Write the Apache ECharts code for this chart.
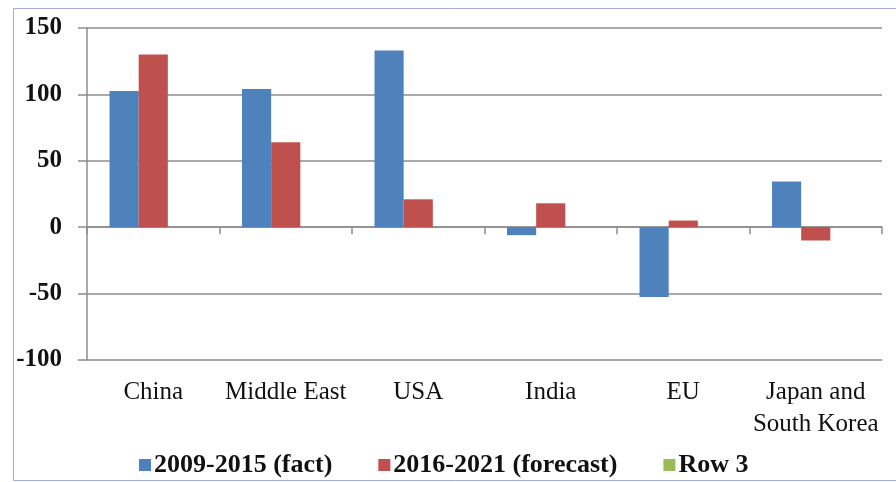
<!DOCTYPE html>
<html>
<head>
<meta charset="utf-8">
<script src="https://cdn.jsdelivr.net/npm/echarts@6/dist/echarts.min.js"></script>
<style>
html, body {margin: 0; padding: 0; background: #fff;}
#figure0 {width: 896px; height: 482px;}
</style>
</head>
<body>
<div id="figure0"></div>
<script>
var regions = ['China', 'Middle East', 'USA', 'India', 'EU', 'Japan and\nSouth Korea'];
var fact = [102.5, 104, 133, -6, -52.5, 34.5];
var forecast = [130, 64, 21, 18, 5, -10];
var row3 = [null, null, null, null, null, null];
var yTicks = {min: -100, max: 150, interval: 50};

var figure0 = echarts.init(document.getElementById('figure0'));
var serif = '"Liberation Serif", "Times New Roman", serif';
var gridColor = '#8c8c8c';
var option = {
    animation: false,
    graphic: [{
        type: 'rect',
        shape: {x: 13.5, y: 8.5, width: 900, height: 472},
        style: {fill: 'none', stroke: '#a3aed6', lineWidth: 1}
    }],
    grid: {left: 87, right: 14, top: 28, bottom: 122},
    legend: {
        left: 134,
        top: 447,
        icon: 'rect',
        itemWidth: 12,
        itemHeight: 12,
        itemGap: 46,
        textStyle: {fontFamily: serif, fontWeight: 'bold', fontSize: 26, color: '#111', padding: [0, 0, 0, -2]},
        data: ['2009-2015 (fact)', '2016-2021 (forecast)', 'Row 3']
    },
    xAxis: [{
        type: 'category',
        data: regions,
        axisLine: {onZero: true, lineStyle: {color: gridColor, width: 1.5}},
        axisTick: {show: true, inside: false, length: 7, lineStyle: {color: gridColor, width: 1.5}},
        axisLabel: {show: false},
        splitLine: {show: false}
    }, {
        type: 'category',
        data: regions,
        position: 'bottom',
        axisLine: {show: false},
        axisTick: {show: false},
        axisLabel: {
            fontFamily: serif, fontSize: 25, color: '#111', margin: 16, lineHeight: 32,
            interval: 0
        }
    }],
    yAxis: {
        type: 'value',
        min: yTicks.min,
        max: yTicks.max,
        interval: yTicks.interval,
        axisLine: {show: true, lineStyle: {color: gridColor, width: 1.5}},
        axisTick: {show: true, length: 9, lineStyle: {color: gridColor, width: 1.5}},
        axisLabel: {fontFamily: serif, fontWeight: 'bold', fontSize: 25, color: '#111', margin: 25},
        splitLine: {lineStyle: {color: gridColor, width: 1.5}}
    },
    series: [{
        name: '2009-2015 (fact)',
        type: 'bar',
        data: fact,
        barGap: '0%',
        barCategoryGap: '34%',
        itemStyle: {color: '#4f81bd'}
    }, {
        name: '2016-2021 (forecast)',
        type: 'bar',
        data: forecast,
        itemStyle: {color: '#c0504d'}
    }, {
        name: 'Row 3',
        type: 'bar',
        data: row3,
        itemStyle: {color: '#9bbb59'}
    }]
};
figure0.setOption(option);
</script>
</body>
</html>
